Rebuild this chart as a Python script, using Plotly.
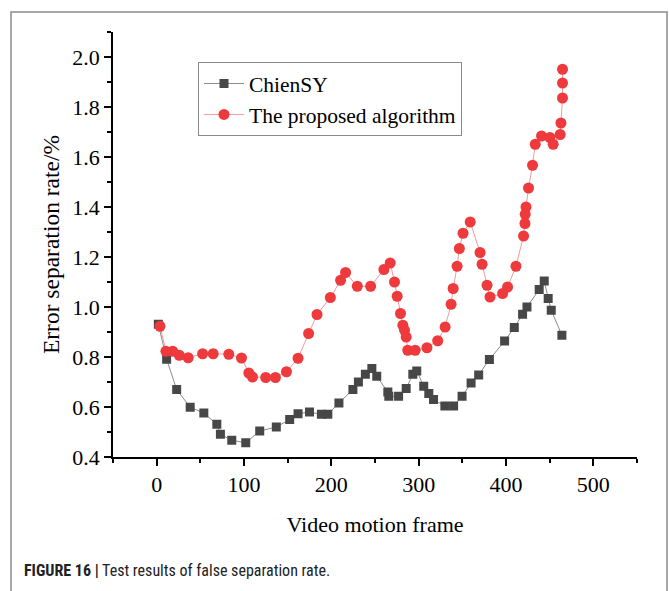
import plotly.graph_objects as go

# ChienSY series
chien_x = [1.9, 11.4, 22.9, 38.4, 54, 68.9, 73, 86, 102, 118, 137, 152.3, 161.9, 175,
           188.6, 196, 208.7, 224.7, 231, 239, 246.4, 252, 264.7, 265.8, 277, 285.7,
           293.3, 297.8, 305.8, 311.6, 317, 330, 340, 349.7, 360, 368.7, 381, 398.4,
           409.5, 419, 424, 438, 443.8, 448.3, 451.8, 464]
chien_y = [0.931, 0.791, 0.670, 0.599, 0.576, 0.531, 0.491, 0.467, 0.457, 0.504, 0.52,
           0.55, 0.573, 0.58, 0.571, 0.571, 0.616, 0.67, 0.70, 0.731, 0.754, 0.723,
           0.66, 0.643, 0.643, 0.674, 0.731, 0.744, 0.683, 0.654, 0.63, 0.604, 0.604,
           0.643, 0.696, 0.728, 0.79, 0.864, 0.918, 0.971, 1.0, 1.07, 1.104, 1.034,
           0.987, 0.887]

# Proposed algorithm series
prop_x = [3.8, 10.6, 18.3, 25.9, 36.1, 52.6, 64.7, 82.6, 97.1, 105.5, 109.7, 124.9,
          136, 148.6, 161.9, 174, 183.6, 198.9, 210.6, 216.3, 229.7, 245, 260.2, 267.4,
          272.3, 275.4, 279.2, 281.9, 283.8, 285.7, 287.5, 296, 309.5, 321.8, 330.3,
          337.1, 339.5, 344, 346.6, 350.8, 359, 370.3, 372.6, 378.3, 381.7, 396.1,
          401.8, 411.4, 420.1, 421.7, 422, 422.9, 425.8, 430.4, 433.5, 440.7, 450.3,
          454, 462, 462.9, 464.7, 464.7, 464.7]
prop_y = [0.923, 0.823, 0.823, 0.807, 0.797, 0.813, 0.813, 0.811, 0.796, 0.736, 0.72,
          0.718, 0.718, 0.741, 0.795, 0.894, 0.97, 1.038, 1.107, 1.138, 1.083, 1.083,
          1.15, 1.176, 1.10, 1.043, 0.974, 0.927, 0.907, 0.88, 0.827, 0.827, 0.837,
          0.865, 0.92, 1.011, 1.074, 1.163, 1.234, 1.295, 1.34, 1.218, 1.171, 1.087,
          1.04, 1.054, 1.08, 1.163, 1.284, 1.334, 1.371, 1.40, 1.476, 1.567, 1.651,
          1.684, 1.678, 1.651, 1.69, 1.736, 1.836, 1.896, 1.951]

x_ticks = [0, 100, 200, 300, 400, 500]
y_ticks = [0.4, 0.6, 0.8, 1.0, 1.2, 1.4, 1.6, 1.8, 2.0]

SERIF = "Liberation Serif, Times New Roman, serif"

fig = go.Figure()
fig.add_trace(go.Scatter(
    x=chien_x, y=chien_y, mode="lines+markers", name="ChienSY",
    line=dict(color="#8c8c8c", width=1),
    marker=dict(symbol="square", size=9, color="#474747"),
))
fig.add_trace(go.Scatter(
    x=prop_x, y=prop_y, mode="lines+markers", name="The proposed algorithm",
    line=dict(color="#f59a9a", width=1),
    marker=dict(symbol="circle", size=11, color="#ee3a3c"),
))

W, H = 669, 591
L, R, T, B = 113, 32, 32, 134
pw, ph = W - L - R, H - T - B

fig.update_layout(
    width=W, height=H,
    margin=dict(l=L, r=R, t=T, b=B),
    paper_bgcolor="white", plot_bgcolor="white",
    font=dict(family=SERIF, color="black"),
    showlegend=True,
    legend=dict(
        x=(198 - L) / pw, y=(H - B - 62) / ph, xanchor="left", yanchor="top",
        bgcolor="white", bordercolor="#8a8a8a", borderwidth=1,
        font=dict(family=SERIF, size=21.5, color="black"),
        tracegroupgap=0, itemwidth=40,
    ),
    xaxis=dict(
        range=[-50, 550], tickvals=x_ticks, ticktext=[str(v) for v in x_ticks],
        showgrid=False, zeroline=False, showline=True, linecolor="black", linewidth=1.5,
        ticks="outside", ticklen=7, tickwidth=1.5, tickcolor="black",
        minor=dict(dtick=50, tick0=0, ticks="outside", ticklen=4, tickwidth=1.5, tickcolor="black", showgrid=False),
        tickfont=dict(family=SERIF, size=22),
        title=dict(text="Video motion frame", font=dict(family=SERIF, size=22), standoff=20),
    ),
    yaxis=dict(
        range=[0.4, 2.1], tickvals=y_ticks, ticktext=[f"{v:.1f}" for v in y_ticks],
        showgrid=False, zeroline=False, showline=True, linecolor="black", linewidth=1.5,
        ticks="outside", ticklen=7, tickwidth=1.5, tickcolor="black",
        minor=dict(dtick=0.1, tick0=0.4, ticks="outside", ticklen=4, tickwidth=1.5, tickcolor="black", showgrid=False),
        tickfont=dict(family=SERIF, size=22),
        title=dict(text="Error separation rate/%", font=dict(family=SERIF, size=23.5), standoff=6),
    ),
)

# outer figure frame
fig.add_shape(
    type="rect", xref="paper", yref="paper",
    x0=(11 - L) / pw, x1=(667 - L) / pw,
    y0=(H - B - 620) / ph, y1=(H - B - 12) / ph,
    line=dict(color="#8a8a8a", width=1.5), fillcolor="rgba(0,0,0,0)", layer="below",
)

fig.add_annotation(
    xref="paper", yref="paper", x=(22 - L) / pw, y=(H - B - 570) / ph,
    xanchor="left", yanchor="middle", showarrow=False,
    text="<b>FIGURE 16 |</b> Test results of false separation rate.",
    font=dict(family="Liberation Sans Narrow, Roboto Condensed, Liberation Sans, Arial, sans-serif", size=16, color="#222222"),
)

fig.write_html("out.html")
